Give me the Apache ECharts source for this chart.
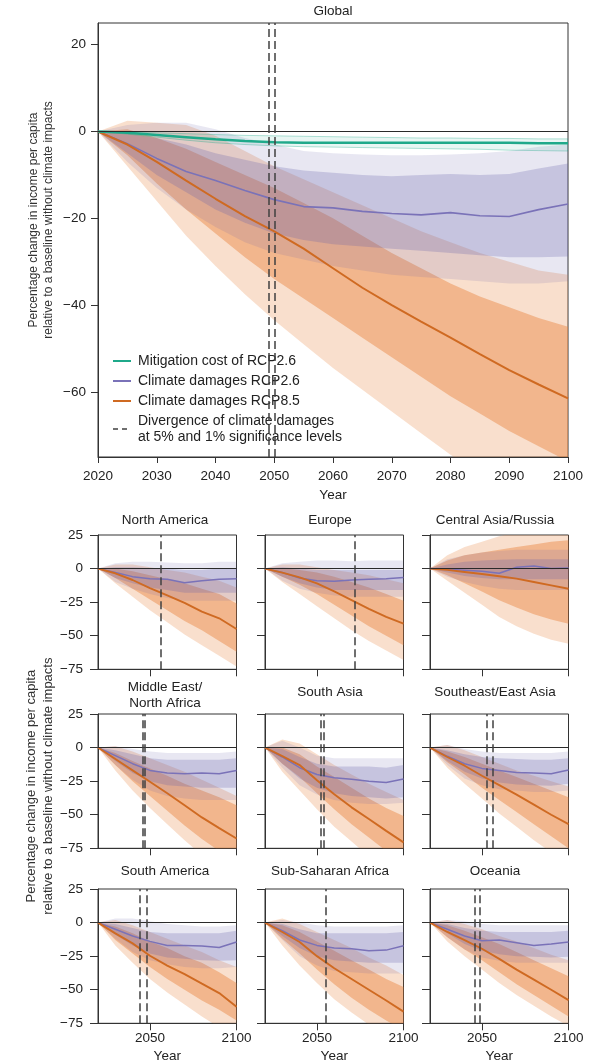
<!DOCTYPE html>
<html>
<head>
<meta charset="utf-8">
<script src="https://cdn.jsdelivr.net/npm/echarts@6/dist/echarts.min.js"></script>
<style>
  html, body { margin: 0; padding: 0; background: #fff; }
  #chart { width: 600px; height: 1063px; }
</style>
</head>
<body>
<div id="chart"></div>
<script>
// ---------------- Data ----------------
const YEARS_GLOBAL = [2020, 2025, 2030, 2035, 2040, 2045, 2050, 2055, 2060, 2065, 2070, 2075, 2080, 2085, 2090, 2095, 2100];
const YEARS_REGION = [2020, 2030, 2040, 2050, 2060, 2070, 2080, 2090, 2100];

const GLOBAL_X_TICKS = [2020, 2030, 2040, 2050, 2060, 2070, 2080, 2090, 2100];
const GLOBAL_Y_TICKS = [-60, -40, -20, 0, 20];
const REGION_X_TICKS = [2050, 2100];
const REGION_Y_TICKS = [-75, -50, -25, 0, 25];

const NAME_MIT = 'Mitigation cost of RCP2.6';
const NAME_26 = 'Climate damages RCP2.6';
const NAME_85 = 'Climate damages RCP8.5';
const NAME_DIV = 'Divergence of climate damages\nat 5% and 1% significance levels';
const Y_NAME = 'Percentage change in income per capita\nrelative to a baseline without climate impacts';

// Global: mitigation cost of RCP2.6 (median and range)
const GL_MIT_MED = [0, -0.3, -0.8, -1.3, -1.8, -2.2, -2.5, -2.6, -2.6, -2.6, -2.6, -2.6, -2.6, -2.6, -2.6, -2.7, -2.7];
const GL_MIT_HI  = [0, -0.1, -0.3, -0.5, -0.7, -0.9, -1.0, -1.1, -1.2, -1.3, -1.4, -1.5, -1.5, -1.6, -1.6, -1.7, -1.7];
const GL_MIT_LO  = [0, -0.6, -1.3, -2.0, -2.6, -3.0, -3.3, -3.5, -3.6, -3.7, -3.8, -3.9, -4.0, -4.1, -4.3, -4.4, -4.5];

// Global: climate damages RCP2.6
const GL_26_MED    = [0, -2.8, -6.2, -9.2, -11.3, -13.6, -15.7, -17.3, -17.6, -18.4, -18.9, -19.2, -18.7, -19.4, -19.6, -18.0, -16.7];
const GL_26_IN_HI  = [0, -0.5, -1.5, -3.0, -5.0, -6.5, -8.0, -9.0, -9.5, -10.0, -10.3, -10.0, -9.8, -10.0, -9.8, -8.5, -7.4];
const GL_26_IN_LO  = [0, -5.0, -10.0, -14.0, -18.0, -21.0, -23.5, -25.0, -26.0, -26.5, -27.0, -27.5, -28.0, -28.5, -29.0, -29.0, -28.8];
const GL_26_OUT_HI = [0, 1.5, 2.0, 2.0, 0.5, -1.5, -3.0, -4.5, -5.0, -5.3, -5.5, -5.5, -5.3, -5.0, -4.5, -3.5, -3.0];
const GL_26_OUT_LO = [0, -7.0, -13.0, -18.0, -22.0, -25.5, -28.0, -29.5, -31.0, -32.0, -33.0, -33.5, -34.0, -34.5, -35.0, -35.0, -34.5];

// Global: climate damages RCP8.5
const GL_85_MED    = [0, -3.0, -7.0, -11.3, -15.5, -19.5, -23.0, -27.0, -31.5, -36.0, -40.0, -43.8, -47.5, -51.3, -55.0, -58.3, -61.5];
const GL_85_IN_HI  = [0, 0.5, -1.5, -4.0, -7.0, -10.0, -13.0, -16.5, -20.0, -24.0, -28.0, -31.5, -35.0, -38.0, -40.5, -43.0, -45.0];
const GL_85_IN_LO  = [0, -5.5, -12.0, -18.0, -23.5, -29.0, -34.0, -38.5, -43.0, -47.5, -52.0, -56.5, -61.0, -65.0, -69.0, -72.5, -76.0];
const GL_85_OUT_HI = [0, 2.5, 2.0, 1.5, -1.0, -4.5, -8.0, -11.0, -14.0, -17.0, -20.0, -23.0, -25.5, -28.0, -30.0, -32.0, -33.0];
const GL_85_OUT_LO = [0, -8.0, -16.0, -24.0, -31.0, -37.5, -43.5, -49.0, -54.5, -59.5, -64.5, -69.5, -74.5, -79.0, -83.0, -87.0, -90.0];

const GL_DIV = [2049, 2050];

// North America
const NAM_85_MED    = [0, -3.5, -8.5, -14.5, -20, -25.5, -32, -37, -45];
const NAM_85_IN_HI  = [0, 0, -2, -5, -8, -11, -15, -19, -26];
const NAM_85_IN_LO  = [0, -7, -15, -23, -31, -39, -46, -54, -62];
const NAM_85_OUT_HI = [0, 3, 3, 1, -1, -3, -6, -9, -14];
const NAM_85_OUT_LO = [0, -11, -21, -31, -40, -49, -57, -65, -73];
const NAM_26_MED    = [0, -3, -6, -7.5, -8, -10.5, -9, -8, -7.5];
const NAM_26_IN_HI  = [0, 1, 1, 0.5, 0, -1, -1, 0, 0.5];
const NAM_26_IN_LO  = [0, -7, -11, -14, -16, -18, -18, -18, -18];
const NAM_26_OUT_HI = [0, 4, 5, 5, 4.5, 4, 4, 5, 5];
const NAM_26_OUT_LO = [0, -10, -15, -19, -22, -24, -24, -24, -24];
const NAM_DIV = [2056];

// Europe
const EUR_85_MED    = [0, -3, -6.5, -11, -17, -23.5, -30, -36, -41];
const EUR_85_IN_HI  = [0, 0.5, -1, -3, -6, -10, -14, -19, -24];
const EUR_85_IN_LO  = [0, -6, -12, -19, -27, -35, -43, -50, -57];
const EUR_85_OUT_HI = [0, 3, 3, 1, -1, -3, -5, -8, -11];
const EUR_85_OUT_LO = [0, -10, -19, -28, -37, -46, -54, -61, -68];
const EUR_26_MED    = [0, -3, -7, -9, -9.5, -8.5, -8, -7.5, -6.7];
const EUR_26_IN_HI  = [0, 1, 0, -1, -1, -1, -1, -1, -1];
const EUR_26_IN_LO  = [0, -6, -11, -14, -16, -16, -16, -16, -16];
const EUR_26_OUT_HI = [0, 4, 5, 6, 6, 5.5, 6, 6, 6];
const EUR_26_OUT_LO = [0, -9, -15, -18, -20, -21, -21, -21, -21];
const EUR_DIV = [2072];

// Central Asia/Russia
const CAR_85_MED    = [0, -1, -2.5, -4, -5.7, -7.5, -10, -12.5, -15];
const CAR_85_IN_HI  = [0, 6, 10, 12, 14, 16, 18, 20, 21];
const CAR_85_IN_LO  = [0, -5, -11, -17, -23.5, -29, -34, -38, -41];
const CAR_85_OUT_HI = [0, 10, 16, 20, 24, 27, 29, 31, 33];
const CAR_85_OUT_LO = [0, -9, -18, -27, -36, -43, -48.5, -53, -56];
const CAR_26_MED    = [0, -0.5, -1.2, -2, -3.5, 1, 2, 0, 0.5];
const CAR_26_IN_HI  = [0, 3, 5, 6, 6.5, 7, 7, 7, 7];
const CAR_26_IN_LO  = [0, -3, -5.5, -7, -8, -8, -8, -8, -8];
const CAR_26_OUT_HI = [0, 7, 10, 12, 13, 14, 14, 14, 14];
const CAR_26_OUT_LO = [0, -6, -10, -13, -15, -16, -16, -16, -16];
const CAR_DIV = [];

// Middle East/North Africa
const MNA_85_MED    = [0, -8.5, -17, -25.5, -34, -43, -52, -60, -67.7];
const MNA_85_IN_HI  = [0, -4, -10, -15.5, -21, -27, -32, -37, -43];
const MNA_85_IN_LO  = [0, -13, -25, -36, -47, -58, -68, -77, -86];
const MNA_85_OUT_HI = [0, 1, -3, -8, -13, -18, -24, -30, -36];
const MNA_85_OUT_LO = [0, -17, -32, -45, -57, -69, -80, -90, -98];
const MNA_26_MED    = [0, -6, -12, -17, -19, -19.5, -19, -19.5, -17];
const MNA_26_IN_HI  = [0, -2, -5, -8, -9, -9, -9, -9, -8];
const MNA_26_IN_LO  = [0, -10, -19, -25, -28, -29, -30, -30, -30];
const MNA_26_OUT_HI = [0, 1, -1, -3, -4, -4, -4, -4, -3];
const MNA_26_OUT_LO = [0, -13, -24, -32, -36, -38, -39, -39, -39];
const MNA_DIV = [2046, 2047];

// South Asia
const SAS_85_MED    = [0, -6.4, -13, -24.3, -34.8, -44.5, -53.2, -62, -70.6];
const SAS_85_IN_HI  = [0, 0, -5, -14, -22, -30, -38, -45, -51];
const SAS_85_IN_LO  = [0, -12, -22, -34, -46, -57, -67, -77, -87];
const SAS_85_OUT_HI = [0, 6, 3, -5, -13, -20, -27, -33, -39];
const SAS_85_OUT_LO = [0, -18, -32, -46, -59, -70, -81, -91, -100];
const SAS_26_MED    = [0, -7, -15, -20, -22.5, -23.5, -25, -26, -23.4];
const SAS_26_IN_HI  = [0, -1, -7, -12, -14, -14, -14, -15, -13];
const SAS_26_IN_LO  = [0, -12, -23, -30, -34, -36, -37, -38, -37];
const SAS_26_OUT_HI = [0, 5, 0, -6, -8, -8, -8, -8, -8];
const SAS_26_OUT_LO = [0, -15, -28, -35, -39, -41, -42, -42, -41];
const SAS_DIV = [2052, 2054];

// Southeast/East Asia
const SEA_85_MED    = [0, -7, -13.5, -21, -28, -35, -42.5, -50, -57];
const SEA_85_IN_HI  = [0, -3, -7, -12, -17, -22, -27, -32, -37];
const SEA_85_IN_LO  = [0, -11, -20, -30, -39, -48, -57, -66, -75];
const SEA_85_OUT_HI = [0, 2, -2, -7, -12, -17, -21, -25, -29];
const SEA_85_OUT_LO = [0, -15, -27, -38, -49, -59, -69, -78, -86];
const SEA_26_MED    = [0, -6.5, -12, -15.5, -17, -18.5, -19, -19.5, -16.7];
const SEA_26_IN_HI  = [0, -2, -5, -7, -8, -8.5, -9, -9, -8];
const SEA_26_IN_LO  = [0, -10, -18, -23, -26, -27.5, -28, -28.5, -27];
const SEA_26_OUT_HI = [0, 2, -1, -3, -4, -4, -4, -4, -3];
const SEA_26_OUT_LO = [0, -13, -23, -28, -31, -32, -33, -33, -32];
const SEA_DIV = [2053, 2056];

// South America
const SAM_85_MED    = [0, -8, -15.5, -24.7, -32, -38.4, -45.5, -52.5, -62.6];
const SAM_85_IN_HI  = [0, -3, -8, -14, -19, -25, -30, -37, -45];
const SAM_85_IN_LO  = [0, -13, -23, -33, -42, -50, -58, -65, -73];
const SAM_85_OUT_HI = [0, 2, -2, -7, -12, -17, -22, -28, -33];
const SAM_85_OUT_LO = [0, -17, -30, -42, -52, -61, -70, -78, -86];
const SAM_26_MED    = [0, -5, -10, -14, -17, -17, -17.5, -18.5, -14.5];
const SAM_26_IN_HI  = [0, -1, -4, -7, -8, -8, -8, -8, -6];
const SAM_26_IN_LO  = [0, -9, -17, -23, -26, -27, -28, -28.5, -28];
const SAM_26_OUT_HI = [0, 3, 3, 1, -1, -2, -3, -3, -2];
const SAM_26_OUT_LO = [0, -12, -22, -28, -31, -33, -34, -34, -33];
const SAM_DIV = [2044, 2048];

// Sub-Saharan Africa
const SSA_85_MED    = [0, -7, -14.5, -25, -34, -42, -50, -58, -66.3];
const SSA_85_IN_HI  = [0, -2, -7, -14, -21, -28, -35, -42, -48];
const SSA_85_IN_LO  = [0, -12, -23, -35, -46, -56, -65, -73, -80];
const SSA_85_OUT_HI = [0, 3, -1, -7, -13, -19, -26, -32, -39];
const SSA_85_OUT_LO = [0, -17, -32, -45, -57, -67, -76, -85, -92];
const SSA_26_MED    = [0, -6, -13, -17, -19, -19.5, -21, -20.5, -17.3];
const SSA_26_IN_HI  = [0, -1, -5, -8, -8, -8, -8, -8, -7];
const SSA_26_IN_LO  = [0, -10, -19, -25, -28, -29, -30, -30, -30];
const SSA_26_OUT_HI = [0, 2, 0, -2, -3, -3, -3, -3, -2];
const SSA_26_OUT_LO = [0, -13, -25, -32, -36, -37, -38, -38, -38];
const SSA_DIV = [2055];

// Oceania
const OCE_85_MED    = [0, -7, -13, -19.5, -27, -35, -42.5, -50, -57.7];
const OCE_85_IN_HI  = [0, -2, -6, -11, -16, -22, -28, -34, -40];
const OCE_85_IN_LO  = [0, -11, -20, -28, -37, -46, -54, -62, -70];
const OCE_85_OUT_HI = [0, 2, -1, -5, -10, -14, -19, -24, -28];
const OCE_85_OUT_LO = [0, -14, -25, -35, -45, -54, -62, -70, -77];
const OCE_26_MED    = [0, -5, -10, -13.5, -13, -15, -17, -16, -14.4];
const OCE_26_IN_HI  = [0, -1, -4, -6, -7, -7, -7, -7, -6];
const OCE_26_IN_LO  = [0, -8, -16, -21, -23.5, -25, -25.5, -26, -25.5];
const OCE_26_OUT_HI = [0, 2, 1, -1, -2, -2, -2, -2, -2];
const OCE_26_OUT_LO = [0, -11, -20, -26, -28.5, -30, -30, -30, -30];
const OCE_DIV = [2046, 2049];

const REGIONS = [
  { title: 'North America', m85: [NAM_85_MED, NAM_85_IN_LO, NAM_85_IN_HI, NAM_85_OUT_LO, NAM_85_OUT_HI], m26: [NAM_26_MED, NAM_26_IN_LO, NAM_26_IN_HI, NAM_26_OUT_LO, NAM_26_OUT_HI], div: NAM_DIV },
  { title: 'Europe', m85: [EUR_85_MED, EUR_85_IN_LO, EUR_85_IN_HI, EUR_85_OUT_LO, EUR_85_OUT_HI], m26: [EUR_26_MED, EUR_26_IN_LO, EUR_26_IN_HI, EUR_26_OUT_LO, EUR_26_OUT_HI], div: EUR_DIV },
  { title: 'Central Asia/Russia', m85: [CAR_85_MED, CAR_85_IN_LO, CAR_85_IN_HI, CAR_85_OUT_LO, CAR_85_OUT_HI], m26: [CAR_26_MED, CAR_26_IN_LO, CAR_26_IN_HI, CAR_26_OUT_LO, CAR_26_OUT_HI], div: CAR_DIV },
  { title: 'Middle East/\nNorth Africa', m85: [MNA_85_MED, MNA_85_IN_LO, MNA_85_IN_HI, MNA_85_OUT_LO, MNA_85_OUT_HI], m26: [MNA_26_MED, MNA_26_IN_LO, MNA_26_IN_HI, MNA_26_OUT_LO, MNA_26_OUT_HI], div: MNA_DIV },
  { title: 'South Asia', m85: [SAS_85_MED, SAS_85_IN_LO, SAS_85_IN_HI, SAS_85_OUT_LO, SAS_85_OUT_HI], m26: [SAS_26_MED, SAS_26_IN_LO, SAS_26_IN_HI, SAS_26_OUT_LO, SAS_26_OUT_HI], div: SAS_DIV },
  { title: 'Southeast/East Asia', m85: [SEA_85_MED, SEA_85_IN_LO, SEA_85_IN_HI, SEA_85_OUT_LO, SEA_85_OUT_HI], m26: [SEA_26_MED, SEA_26_IN_LO, SEA_26_IN_HI, SEA_26_OUT_LO, SEA_26_OUT_HI], div: SEA_DIV },
  { title: 'South America', m85: [SAM_85_MED, SAM_85_IN_LO, SAM_85_IN_HI, SAM_85_OUT_LO, SAM_85_OUT_HI], m26: [SAM_26_MED, SAM_26_IN_LO, SAM_26_IN_HI, SAM_26_OUT_LO, SAM_26_OUT_HI], div: SAM_DIV },
  { title: 'Sub-Saharan Africa', m85: [SSA_85_MED, SSA_85_IN_LO, SSA_85_IN_HI, SSA_85_OUT_LO, SSA_85_OUT_HI], m26: [SSA_26_MED, SSA_26_IN_LO, SSA_26_IN_HI, SSA_26_OUT_LO, SSA_26_OUT_HI], div: SSA_DIV },
  { title: 'Oceania', m85: [OCE_85_MED, OCE_85_IN_LO, OCE_85_IN_HI, OCE_85_OUT_LO, OCE_85_OUT_HI], m26: [OCE_26_MED, OCE_26_IN_LO, OCE_26_IN_HI, OCE_26_OUT_LO, OCE_26_OUT_HI], div: OCE_DIV }
];

// ---------------- Styles & layout ----------------
const FONT = '"Liberation Sans", Arial, Helvetica, sans-serif';
const INK = '#222';
const AXIS = '#333';
const C_MIT = '#1fa98a';
const C_26 = '#7a72b8';
const C_85 = '#cf6a22';
const C_DIV = '#404040';
const F_85_OUT = 'rgba(232,130,60,0.26)';
const F_85_IN = 'rgba(232,130,60,0.44)';
const F_26_OUT = 'rgba(100,95,170,0.15)';
const F_26_IN = 'rgba(100,95,170,0.26)';
const F_MIT = 'rgba(31,169,138,0.10)';
const S_MIT = 'rgba(31,169,138,0.35)';

const GLOBAL_BOX = { left: 98, top: 23, width: 470, height: 434 };
const COL_LEFT = [98, 265, 430];
const COL_TITLE_X = [165, 330, 495];
const ROW_TOP = [535, 714, 889];
const PANEL_W = 138.5;
const PANEL_H = 134.3;

const minus = v => (v < 0 ? '\u2212' + Math.abs(v) : String(v));
const plain = v => String(v);
const txt = (size, extra) => Object.assign({ fontFamily: FONT, fontSize: size, color: INK, fontWeight: 'normal' }, extra || {});

// ---------------- Series builders ----------------
const series = [];

function band(idx, years, lo, hi, fill, stroke) {
  const rows = years.map((y, i) => [y, lo[i], hi[i]]);
  return {
    type: 'custom', xAxisIndex: idx, yAxisIndex: idx, clip: true, silent: true, z: 1,
    data: rows, encode: { x: 0, y: [1, 2] },
    renderItem(params, api) {
      if (params.dataIndex !== 0) return null;
      const top = rows.map(r => api.coord([r[0], r[2]]));
      const bottom = rows.map(r => api.coord([r[0], r[1]])).reverse();
      const style = { fill: fill };
      if (stroke) { style.stroke = stroke; style.lineWidth = 1; }
      return { type: 'polygon', shape: { points: top.concat(bottom) }, style: style };
    }
  };
}

function curve(idx, years, vals, name, color, width, z) {
  return {
    type: 'line', name: name, xAxisIndex: idx, yAxisIndex: idx, clip: true, silent: true, z: z || 3,
    data: years.map((y, i) => [y, vals[i]]), symbol: 'none', showSymbol: false,
    lineStyle: { color: color, width: width }, itemStyle: { color: color }
  };
}

function refLines(idx, divYears) {
  series.push({
    type: 'line', xAxisIndex: idx, yAxisIndex: idx, data: [], silent: true, z: 2,
    markLine: {
      silent: true, symbol: ['none', 'none'], label: { show: false }, animation: false,
      lineStyle: { color: '#2a2a2a', width: 1.2, type: 'solid' },
      data: [{ yAxis: 0 }]
    }
  });
  series.push({
    type: 'line', name: NAME_DIV, xAxisIndex: idx, yAxisIndex: idx, data: [], silent: true, z: 4,
    symbol: 'none', lineStyle: { color: C_DIV, width: 1.5, type: [5, 4] }, itemStyle: { color: C_DIV },
    markLine: {
      silent: true, symbol: ['none', 'none'], label: { show: false }, animation: false,
      lineStyle: { color: C_DIV, width: 1.5, type: [8, 4] },
      data: divYears.map(x => ({ xAxis: x }))
    }
  });
}

function panel(idx, years, m85, m26) {
  series.push(band(idx, years, m85[3], m85[4], F_85_OUT));
  series.push(band(idx, years, m85[1], m85[2], F_85_IN));
  series.push(band(idx, years, m26[3], m26[4], F_26_OUT));
  series.push(band(idx, years, m26[1], m26[2], F_26_IN));
}

// Global panel
panel(0, YEARS_GLOBAL,
  [GL_85_MED, GL_85_IN_LO, GL_85_IN_HI, GL_85_OUT_LO, GL_85_OUT_HI],
  [GL_26_MED, GL_26_IN_LO, GL_26_IN_HI, GL_26_OUT_LO, GL_26_OUT_HI]);
series.push(band(0, YEARS_GLOBAL, GL_MIT_LO, GL_MIT_HI, F_MIT, S_MIT));
refLines(0, GL_DIV);
series.push(curve(0, YEARS_GLOBAL, GL_26_MED, NAME_26, C_26, 1.6));
series.push(curve(0, YEARS_GLOBAL, GL_85_MED, NAME_85, C_85, 2));
series.push(curve(0, YEARS_GLOBAL, GL_MIT_MED, NAME_MIT, C_MIT, 2.5, 3.5));

// Regional panels
REGIONS.forEach((r, i) => {
  const idx = i + 1;
  panel(idx, YEARS_REGION, r.m85, r.m26);
  refLines(idx, r.div);
  series.push(curve(idx, YEARS_REGION, r.m26[0], NAME_26, C_26, 1.5));
  series.push(curve(idx, YEARS_REGION, r.m85[0], NAME_85, C_85, 1.9));
});

// ---------------- Grids & axes ----------------
const gridBase = { show: true, borderColor: AXIS, borderWidth: 1, containLabel: false, outerBoundsMode: 'none' };
const axisLine = { show: true, onZero: false, lineStyle: { color: AXIS, width: 1 } };

const grids = [Object.assign({}, gridBase, GLOBAL_BOX)];
const xAxes = [{
  gridIndex: 0, type: 'value', min: 2020, max: 2100, interval: 10,
  axisLine: axisLine,
  axisTick: { show: true, length: 6, lineStyle: { color: AXIS }, customValues: GLOBAL_X_TICKS },
  axisLabel: txt(13.5, { margin: 11, lineHeight: 16, customValues: GLOBAL_X_TICKS, formatter: plain }),
  splitLine: { show: false },
  name: 'Year', nameLocation: 'middle', nameGap: 30, nameMoveOverlap: false,
  nameTextStyle: txt(13.5, { lineHeight: 16 })
}];
const yAxes = [{
  gridIndex: 0, type: 'value', min: -75, max: 25,
  axisLine: axisLine,
  axisTick: { show: true, length: 7, lineStyle: { color: AXIS }, customValues: GLOBAL_Y_TICKS },
  axisLabel: txt(13.5, { margin: 12, customValues: GLOBAL_Y_TICKS, formatter: minus }),
  splitLine: { show: false },
  name: Y_NAME, nameLocation: 'middle', nameGap: 42, nameMoveOverlap: false,
  nameTextStyle: txt(12, { lineHeight: 15, color: '#333', padding: [0, 0, 0, 40] })
}];
const titles = [{
  text: 'Global', left: 333, top: 3, textAlign: 'center', padding: 0,
  textStyle: txt(13.5, { lineHeight: 16 })
}];

REGIONS.forEach((r, i) => {
  const row = Math.floor(i / 3), col = i % 3, idx = i + 1;
  grids.push(Object.assign({}, gridBase, {
    left: COL_LEFT[col], top: ROW_TOP[row], width: PANEL_W, height: PANEL_H }));
  const bottomRow = row === 2;
  xAxes.push(Object.assign({
    gridIndex: idx, type: 'value', min: 2020, max: 2100,
    axisLine: axisLine,
    axisTick: { show: true, length: 7, lineStyle: { color: AXIS }, customValues: REGION_X_TICKS },
    axisLabel: txt(13.5, { show: bottomRow, margin: 7, lineHeight: 16, customValues: REGION_X_TICKS, formatter: plain }),
    splitLine: { show: false }
  }, bottomRow ? { name: 'Year', nameLocation: 'middle', nameGap: 25, nameMoveOverlap: false,
    nameTextStyle: txt(13.5, { lineHeight: 16 }) } : {}));
  const nameCol = col === 0 && row === 1;
  yAxes.push(Object.assign({
    gridIndex: idx, type: 'value', min: -75, max: 25, interval: 25,
    axisLine: axisLine,
    axisTick: { show: true, length: 8, lineStyle: { color: AXIS }, customValues: REGION_Y_TICKS },
    axisLabel: txt(13.5, { show: col === 0, margin: 15, customValues: REGION_Y_TICKS, formatter: minus }),
    splitLine: { show: false }
  }, nameCol ? { name: Y_NAME, nameLocation: 'middle', nameGap: 41.5, nameMoveOverlap: false,
    nameTextStyle: txt(13, { lineHeight: 17, color: '#333', padding: [0, 10, 0, 0] }) } : {}));
  const twoLine = r.title.indexOf('\n') >= 0;
  const titleTop = row === 0 ? 512 : row === 1 ? (twoLine ? 679 : 684) : 863;
  titles.push({ text: r.title, left: COL_TITLE_X[col], top: titleTop, textAlign: 'center', padding: 0,
    textStyle: txt(13.5, { lineHeight: 16 }) });
});

const hiddenMarker = { opacity: 0, borderWidth: 0 };
const option = {
  animation: false,
  backgroundColor: '#fff',
  textStyle: { fontFamily: FONT },
  title: titles,
  grid: grids,
  xAxis: xAxes,
  yAxis: yAxes,
  legend: {
    orient: 'vertical', left: 112, top: 353, padding: 0, selectedMode: false,
    itemWidth: 18, itemHeight: 14, itemGap: 4,
    itemStyle: hiddenMarker,
    textStyle: txt(14, { lineHeight: 16, padding: [0, 0, 0, 2] }),
    data: [
      { name: NAME_MIT, itemStyle: hiddenMarker, lineStyle: { type: 'solid', width: 2 } },
      { name: NAME_26, itemStyle: hiddenMarker, lineStyle: { type: 'solid', width: 2 } },
      { name: NAME_85, itemStyle: hiddenMarker, lineStyle: { type: 'solid', width: 2 } },
      { name: NAME_DIV, itemStyle: hiddenMarker, lineStyle: { type: [5, 4], width: 1.5 } }
    ]
  },
  series: series
};

const chart = echarts.init(document.getElementById('chart'), null, { renderer: 'canvas' });
chart.setOption(option);
</script>
</body>
</html>
